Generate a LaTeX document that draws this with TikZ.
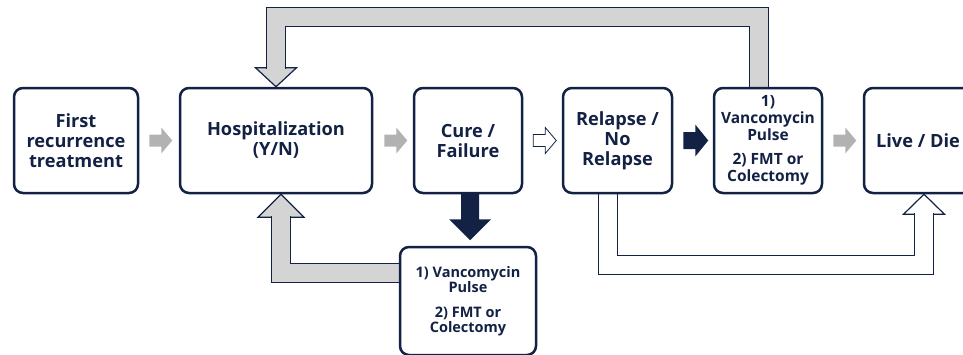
\documentclass[tikz,border=0pt]{standalone}
\usepackage{fontspec}
\setmainfont{Open Sans}
\usepackage{tikz}
\usetikzlibrary{backgrounds}
\definecolor{cd_navy}{RGB}{18, 33, 68}
\definecolor{cd_band}{RGB}{212, 212, 212}
\definecolor{cd_tip}{RGB}{178, 178, 178}
\tikzstyle{bx}=[rectangle,rounded corners=9pt,fill=white,draw=cd_navy,text=cd_navy,
  line width=2.5pt,align=center,inner sep=2pt,minimum height=105pt,
  font=\bfseries\fontsize{18.2}{20}\selectfont]
\tikzstyle{bxs}=[bx,font=\bfseries\fontsize{15.5}{17}\selectfont]
\tikzstyle{bxt}=[bx,font=\bfseries\fontsize{14.5}{15}\selectfont]
\tikzstyle{gband}=[draw=cd_navy,line width=1.2pt,double=cd_band,double distance=18pt]
\tikzstyle{wband}=[gband,double=white]
\tikzstyle{bhead}=[fill=cd_band,draw=cd_navy,line width=1.2pt,line join=miter]
\tikzstyle{whead}=[bhead,fill=white]
\tikzstyle{gtip}=[fill=cd_tip]
\tikzstyle{otip}=[fill=white,draw=cd_navy,line width=0.8pt]
\tikzstyle{ntip}=[fill=cd_navy]

\begin{document}
\begin{tikzpicture}[x=1pt,y=-1pt]
            \useasboundingbox (0, 0) rectangle (963, 354);
            \node [style=bx, minimum width=124pt] (0) at (76, 140.5) {First\\recurrence\\treatment};
            \node [style=bx, minimum width=192pt] (1) at (276, 140.5) {Hospitalization\\(Y/N)};
            \node [style=bx, minimum width=108pt] (2) at (468, 140.5) {Cure /\\Failure};
            \node [style=bx, minimum width=109pt] (3) at (617.5, 140.5) {Relapse /\\No\\Relapse};
            \node [style=bxs, minimum width=108pt] (4) at (768, 140.5) {1)\\Vancomycin\\Pulse\\[7pt]2) FMT or\\Colectomy};
            \node [style=bx, minimum width=108pt] (5) at (918, 140.5) {Live / Die};
            \node [style=bxt, minimum width=136pt, minimum height=108pt] (6) at (468, 301) {1) Vancomycin\\Pulse\\[10pt]2) FMT or\\Colectomy};
            \begin{scope}[on background layer]
            % loops
            \draw [style=bhead] (1.north) -- ++(-20.5, -19) -- ++(41, 0) -- cycle;
            \draw [style=gband] ([xshift=-9pt, yshift=-6pt]4.north) -- ++(0, -76) -| ([yshift=18pt]1.north);
            \draw [style=bhead] ([xshift=5pt]1.south) -- ++(-23, 23) -- ++(46, 0) -- cycle;
            \draw [style=gband] ([xshift=6pt, yshift=28pt]6.west) -| ([xshift=5pt, yshift=-22pt]1.south);
            \draw [style=whead] ([xshift=6pt]5.south) -- ++(-20.5, 20) -- ++(41, 0) -- cycle;
            \draw [style=wband] ([xshift=-9.5pt, yshift=6pt]3.south) -- ++(0, 77) -| ([xshift=6pt, yshift=-19pt]5.south);
            % small arrows
            \fill [style=gtip] ([xshift=10pt, yshift=6pt]0.east) -- ++(12, 0) -- ++(0, -7) -- ++(11, 13) -- ++(-11, 13) -- ++(0, -7) -- ++(-12, 0) -- cycle;
            \fill [style=gtip] ([xshift=11pt, yshift=6pt]1.east) -- ++(12, 0) -- ++(0, -7) -- ++(11, 13) -- ++(-11, 13) -- ++(0, -7) -- ++(-12, 0) -- cycle;
            \draw [style=otip] ([xshift=10pt, yshift=6pt]2.east) -- ++(12, 0) -- ++(0, -7) -- ++(11, 13) -- ++(-11, 13) -- ++(0, -7) -- ++(-12, 0) -- cycle;
            \fill [style=ntip] ([xshift=10pt, yshift=8.5pt]3.east) -- ++(12, 0) -- ++(0, -7.5) -- ++(13, 16) -- ++(-13, 16) -- ++(0, -7.5) -- ++(-12, 0) -- cycle;
            \fill [style=gtip] ([xshift=10pt, yshift=6pt]4.east) -- ++(12, 0) -- ++(0, -7) -- ++(11, 13) -- ++(-11, 13) -- ++(0, -7) -- ++(-12, 0) -- cycle;
            \fill [style=ntip] ([xshift=-7pt, yshift=2pt]2.south) -- ++(0, 27) -- ++(-12, 0) -- ++(21, 21) -- ++(21, -21) -- ++(-12, 0) -- ++(0, -27) -- cycle;
            \end{scope}
    \end{tikzpicture}
\end{document}
